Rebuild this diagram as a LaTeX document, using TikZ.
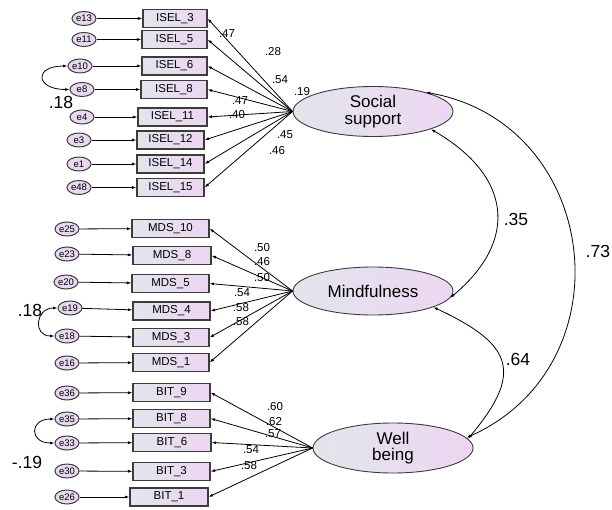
\documentclass[tikz,border=0pt]{standalone}
\usepackage{fontspec}
\setmainfont{Liberation Sans}
\usetikzlibrary{arrows.meta,shapes.geometric}
\definecolor{boxL}{HTML}{E2E5EC}
\definecolor{boxR}{HTML}{ECD6F2}
\definecolor{errF}{HTML}{E9D9F0}
\definecolor{edgeC}{HTML}{3C3C3C}
\tikzset{>={Latex[length=4.5pt,width=3pt]},
ind/.style={rectangle, draw=edgeC, line width=1.1pt, left color=boxL, right color=boxR,
  minimum height=18, inner sep=0pt, font=\fontsize{11.5}{12}\selectfont},
err/.style={ellipse, draw=edgeC, line width=1pt, fill=errF, minimum width=24,
  minimum height=14, inner sep=0pt, font=\fontsize{9.5}{10}\selectfont},
lat/.style={ellipse, draw=edgeC, line width=0.9pt, left color=boxL, right color=boxR,
  minimum width=160, minimum height=50, inner sep=0pt, align=center,
  font=\fontsize{17}{16.5}\selectfont},
load/.style={->, line width=0.8pt},
cov/.style={<->, line width=0.8pt},
val/.style={inner sep=0pt, font=\fontsize{11.5}{12}\selectfont},
bigval/.style={inner sep=0pt, font=\fontsize{17.5}{18}\selectfont}}

\begin{document}
\begin{tikzpicture}[x=1pt, y=1pt]
        \useasboundingbox (0,0) rectangle (612,-510);

        % latent variables
        \node[lat] (ss) at (373, -111.5) {Social\\support};
        \node[lat, minimum height=48] (mf) at (373, -291) {Mindfulness};
        \node[lat] (wb) at (393, -448) {Well\\being};

        % social support items
        \node[ind, minimum width=64] (isel3) at (175, -18.5) {ISEL\_3};
        \node[ind, minimum width=65] (isel5) at (174.5, -39.5) {ISEL\_5};
        \node[ind, minimum width=65] (isel6) at (174.5, -66) {ISEL\_6};
        \node[ind, minimum width=66] (isel8) at (174, -89.5) {ISEL\_8};
        \node[ind, minimum width=69] (isel11) at (172.5, -117) {ISEL\_11};
        \node[ind, minimum width=67] (isel12) at (170.5, -140) {ISEL\_12};
        \node[ind, minimum width=67] (isel14) at (170.5, -164) {ISEL\_14};
        \node[ind, minimum width=67] (isel15) at (170.5, -187.5) {ISEL\_15};

        \node[err] (e13) at (84, -18.5) {e13};
        \node[err] (e11) at (84, -39.5) {e11};
        \node[err] (e10) at (80, -66) {e10};
        \node[err] (e8) at (82, -89.5) {e8};
        \node[err] (e4) at (82, -117) {e4};
        \node[err] (e3) at (79, -140) {e3};
        \node[err] (e1) at (79, -164) {e1};
        \node[err] (e48) at (79, -187.5) {e48};

        % mindfulness items
        \node[ind, minimum width=77] (mds10) at (170.5, -228.5) {MDS\_10};
        \node[ind, minimum width=78] (mds8) at (172, -255.5) {MDS\_8};
        \node[ind, minimum width=77] (mds5) at (170.5, -283.5) {MDS\_5};
        \node[ind, minimum width=77] (mds4) at (171.5, -311) {MDS\_4};
        \node[ind, minimum width=76] (mds3) at (171, -337.5) {MDS\_3};
        \node[ind, minimum width=76] (mds1) at (171, -362.5) {MDS\_1};

        \node[err] (e25) at (67, -229) {e25};
        \node[err] (e23) at (67, -254) {e23};
        \node[err] (e20) at (66, -282) {e20};
        \node[err] (e19) at (70, -308) {e19};
        \node[err] (e18) at (67, -336) {e18};
        \node[err] (e16) at (67, -363) {e16};

        % well being items
        \node[ind, minimum width=77] (bit9) at (171.5, -392.5) {BIT\_9};
        \node[ind, minimum width=77] (bit8) at (171.5, -418.5) {BIT\_8};
        \node[ind, minimum width=78] (bit6) at (172, -442.5) {BIT\_6};
        \node[ind, minimum width=77] (bit3) at (171.5, -471.5) {BIT\_3};
        \node[ind, minimum width=78] (bit1) at (169, -497) {BIT\_1};

        \node[err] (e36) at (67, -393) {e36};
        \node[err] (e35) at (67, -419) {e35};
        \node[err] (e33) at (67, -443) {e33};
        \node[err] (e30) at (67, -471) {e30};
        \node[err] (e26) at (67, -497) {e26};

        % loadings
        \draw (ss.west) edge[load] (isel3.east)
              (ss.west) edge[load] (isel5.east)
              (ss.west) edge[load] (isel6.east)
              (ss.west) edge[load] (isel8.east)
              (ss.west) edge[load] (isel11.east)
              (ss.west) edge[load] (isel12.east)
              (ss.west) edge[load] (isel14.east)
              (ss.west) edge[load] (isel15.east)
              (mf.west) edge[load] (mds10.east)
              (mf.west) edge[load] (mds8.east)
              (mf.west) edge[load] (mds5.east)
              (mf.west) edge[load] (mds4.east)
              (mf.west) edge[load] (mds3.east)
              (mf.west) edge[load] (mds1.east)
              (wb.west) edge[load] (bit9.east)
              (wb.west) edge[load] (bit8.east)
              (wb.west) edge[load] (bit6.east)
              (wb.west) edge[load] (bit3.east)
              (wb.west) edge[load] (bit1.east)
              ;

        % error terms
        \draw (e13) edge[load] (isel3)
              (e11) edge[load] (isel5)
              (e10) edge[load] (isel6)
              (e8) edge[load] (isel8)
              (e4) edge[load] (isel11)
              (e3) edge[load] (isel12)
              (e1) edge[load] (isel14)
              (e48) edge[load] (isel15)
              (e25) edge[load] (mds10)
              (e23) edge[load] (mds8)
              (e20) edge[load] (mds5)
              (e19) edge[load] (mds4)
              (e18) edge[load] (mds3)
              (e16) edge[load] (mds1)
              (e36) edge[load] (bit9)
              (e35) edge[load] (bit8)
              (e33) edge[load] (bit6)
              (e30) edge[load] (bit3)
              (e26) edge[load] (bit1)
              ;

        % covariances
        \draw (e10.west) edge[cov, out=180, in=180, looseness=3.7] (e8.west)
              (e19.west) edge[cov, out=180, in=180, looseness=2.0] (e18.west)
              (e35.west) edge[cov, out=180, in=180, looseness=2.7] (e33.west)
              (ss.-17) edge[cov, out=-30, in=40, looseness=1.38] (mf.-5)
              (mf.-15) edge[cov, out=-25, in=50, looseness=1.64] (wb.7)
              (ss.20) edge[cov, out=-10, in=24, looseness=1.31] (wb.8)
              ;

        % estimates
        \node[val] (v1) at (227, -34) {.47};
        \node[val] (v2) at (273, -52) {.28};
        \node[val] (v3) at (280, -80) {.54};
        \node[val] (v4) at (302, -92) {.19};
        \node[val] (v5) at (240, -101) {.47};
        \node[val] (v6) at (237, -115) {.40};
        \node[val] (v7) at (285, -135) {.45};
        \node[val] (v8) at (277, -151) {.46};

        \node[val] (v9) at (262, -248) {.50};
        \node[val] (v10) at (262, -262) {.46};
        \node[val] (v11) at (262, -278) {.50};
        \node[val] (v12) at (242, -293) {.54};
        \node[val] (v13) at (241, -308) {.58};
        \node[val] (v14) at (241, -322) {.58};

        \node[val] (v15) at (275, -407) {.60};
        \node[val] (v16) at (274, -422) {.62};
        \node[val] (v17) at (273, -434) {.57};
        \node[val] (v18) at (251, -450) {.54};
        \node[val] (v19) at (249, -466) {.58};

        \node[bigval] (c1) at (61, -102) {.18};
        \node[bigval] (c2) at (30, -310) {.18};
        \node[bigval] (c3) at (27, -462) {-.19};
        \node[bigval] (c4) at (516, -219) {.35};
        \node[bigval] (c5) at (518, -359) {.64};
        \node[bigval] (c6) at (598, -251) {.73};
    \end{tikzpicture}
\end{document}
